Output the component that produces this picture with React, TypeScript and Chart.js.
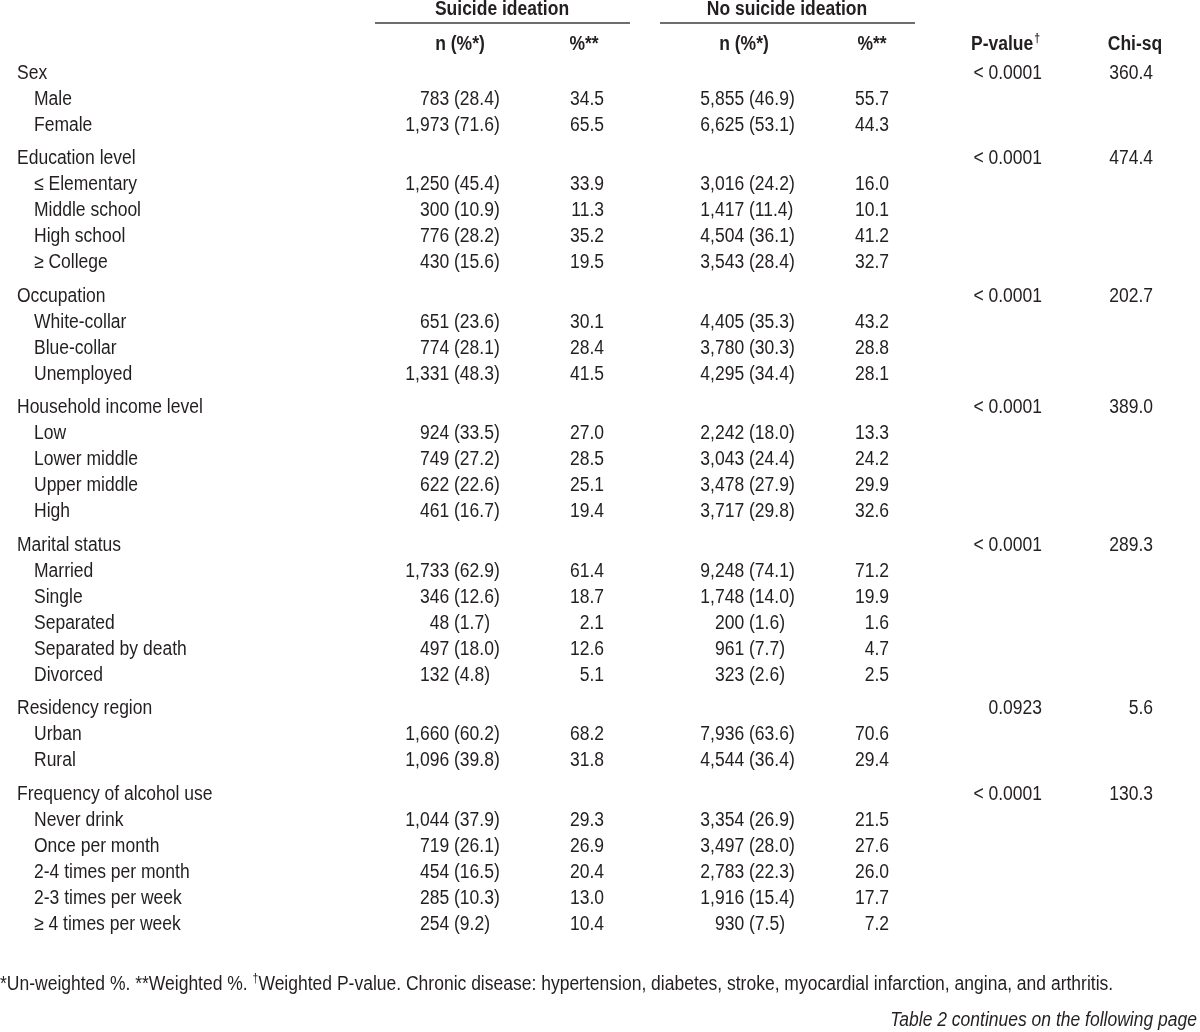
import React, { useEffect, useRef } from "react";
import { Chart, registerables } from "chart.js";

Chart.register(...registerables);

// ---------- DATA ----------
const groupLabels = [
  "Sex",
  "Education level",
  "Occupation",
  "Household income level",
  "Marital status",
  "Residency region",
  "Frequency of alcohol use",
];

const categories = [
  ["Male", "Female"],
  ["≤ Elementary", "Middle school", "High school", "≥ College"],
  ["White-collar", "Blue-collar", "Unemployed"],
  ["Low", "Lower middle", "Upper middle", "High"],
  ["Married", "Single", "Separated", "Separated by death", "Divorced"],
  ["Urban", "Rural"],
  ["Never drink", "Once per month", "2-4 times per month", "2-3 times per week", "≥ 4 times per week"],
];

const ideationN = [
  [783, 1973],
  [1250, 300, 776, 430],
  [651, 774, 1331],
  [924, 749, 622, 461],
  [1733, 346, 48, 497, 132],
  [1660, 1096],
  [1044, 719, 454, 285, 254],
];
const ideationUnweighted = [
  [28.4, 71.6],
  [45.4, 10.9, 28.2, 15.6],
  [23.6, 28.1, 48.3],
  [33.5, 27.2, 22.6, 16.7],
  [62.9, 12.6, 1.7, 18.0, 4.8],
  [60.2, 39.8],
  [37.9, 26.1, 16.5, 10.3, 9.2],
];
const ideationWeighted = [
  [34.5, 65.5],
  [33.9, 11.3, 35.2, 19.5],
  [30.1, 28.4, 41.5],
  [27.0, 28.5, 25.1, 19.4],
  [61.4, 18.7, 2.1, 12.6, 5.1],
  [68.2, 31.8],
  [29.3, 26.9, 20.4, 13.0, 10.4],
];

const noIdeationN = [
  [5855, 6625],
  [3016, 1417, 4504, 3543],
  [4405, 3780, 4295],
  [2242, 3043, 3478, 3717],
  [9248, 1748, 200, 961, 323],
  [7936, 4544],
  [3354, 3497, 2783, 1916, 930],
];
const noIdeationUnweighted = [
  [46.9, 53.1],
  [24.2, 11.4, 36.1, 28.4],
  [35.3, 30.3, 34.4],
  [18.0, 24.4, 27.9, 29.8],
  [74.1, 14.0, 1.6, 7.7, 2.6],
  [63.6, 36.4],
  [26.9, 28.0, 22.3, 15.4, 7.5],
];
const noIdeationWeighted = [
  [55.7, 44.3],
  [16.0, 10.1, 41.2, 32.7],
  [43.2, 28.8, 28.1],
  [13.3, 24.2, 29.9, 32.6],
  [71.2, 19.9, 1.6, 4.7, 2.5],
  [70.6, 29.4],
  [21.5, 27.6, 26.0, 17.7, 7.2],
];

const pValues = ["< 0.0001", "< 0.0001", "< 0.0001", "< 0.0001", "< 0.0001", "0.0923", "< 0.0001"];
const chiSq = [360.4, 474.4, 202.7, 389.0, 289.3, 5.6, 130.3];

const spanHeaders = ["Suicide ideation", "No suicide ideation"];
const subHeaders = ["n (%*)", "%**", "n (%*)", "%**"];
const statHeaders = ["P-value", "Chi-sq"];
const footnoteA = "*Un-weighted %. **Weighted %. ";
const footnoteB = "Weighted P-value. Chronic disease: hypertension, diabetes, stroke, myocardial infarction, angina, and arthritis.";
const continuation = "Table 2 continues on the following page";

// ---------- LAYOUT (scale units = page pixels) ----------
const W = 1200;
const H = 1032;
const ROW_START = 73;
const ROW_STEP = 26;
const GROUP_GAP = 7.5;
const COL = {
  group: 17,
  item: 34,
  n1Paren: 454,
  w1Right: 604,
  n2Paren: 749,
  w2Right: 889,
  pRight: 1042,
  chiRight: 1153,
};
const SPAN = [
  { center: 502, from: 375, to: 630 },
  { center: 787, from: 660, to: 915 },
];
const SUB_CENTERS = [460, 584, 744, 872];
const STAT_CENTERS = [1005, 1135];
const TEXT = "#231f20";
const RULE = "#6d6e71";
const FAMILY = '"Liberation Sans", Arimo, Arial, sans-serif';
const CONDENSE = 0.875;

const fmtN = (v: number) => v.toLocaleString("en-US");
const fmtP = (v: number) => v.toFixed(1);

const tablePlugin = {
  id: "tablePlugin",
  afterDraw(chart: any) {
    const ctx: CanvasRenderingContext2D = chart.ctx;
    const xs = chart.scales.x;
    const ys = chart.scales.y;
    const X = (v: number) => xs.getPixelForValue(v);
    const Y = (v: number) => ys.getPixelForValue(v);
    const sx = CONDENSE;

    const font = (size: number, style = "") => `${style} ${size}px ${FAMILY}`.trim();
    const measure = (t: string, f: string) => {
      ctx.font = f;
      return ctx.measureText(t).width * sx;
    };
    const draw = (t: string, x: number, y: number, align: CanvasTextAlign, f: string) => {
      ctx.save();
      ctx.font = f;
      ctx.fillStyle = TEXT;
      ctx.textBaseline = "middle";
      ctx.textAlign = align;
      ctx.translate(x, y);
      ctx.scale(sx, 1);
      ctx.fillText(t, 0, 0);
      ctx.restore();
    };

    const body = font(20);
    const bold = font(20, "bold");

    // header row 1
    SPAN.forEach((s, i) => {
      draw(spanHeaders[i], X(s.center), Y(9), "center", bold);
      ctx.save();
      ctx.strokeStyle = RULE;
      ctx.lineWidth = 2;
      ctx.beginPath();
      ctx.moveTo(X(s.from), Y(23));
      ctx.lineTo(X(s.to), Y(23));
      ctx.stroke();
      ctx.restore();
    });
    // header row 2
    subHeaders.forEach((h, i) => draw(h, X(SUB_CENTERS[i]), Y(44), "center", bold));
    {
      const main = statHeaders[0];
      const wMain = measure(main, bold);
      const dag = font(12, "bold");
      const wDag = measure("†", dag);
      const left = X(STAT_CENTERS[0]) - (wMain + wDag) / 2;
      draw(main, left, Y(44), "left", bold);
      draw("†", left + wMain + 1, Y(39), "left", dag);
    }
    draw(statHeaders[1], X(STAT_CENTERS[1]), Y(44), "center", bold);

    // body rows
    let row = 0;
    const sp = measure(" ", body);
    groupLabels.forEach((g, gi) => {
      const yPos = (r: number) => ROW_START + ROW_STEP * r + GROUP_GAP * gi;
      const gy = Y(yPos(row));
      draw(g, X(COL.group), gy, "left", body);
      draw(pValues[gi], X(COL.pRight), gy, "right", body);
      draw(fmtP(chiSq[gi]), X(COL.chiRight), gy, "right", body);
      row++;
      categories[gi].forEach((c, ci) => {
        const y = Y(yPos(row));
        draw(c, X(COL.item), y, "left", body);
        draw(fmtN(ideationN[gi][ci]), X(COL.n1Paren) - sp, y, "right", body);
        draw(`(${fmtP(ideationUnweighted[gi][ci])})`, X(COL.n1Paren), y, "left", body);
        draw(fmtP(ideationWeighted[gi][ci]), X(COL.w1Right), y, "right", body);
        draw(fmtN(noIdeationN[gi][ci]), X(COL.n2Paren) - sp, y, "right", body);
        draw(`(${fmtP(noIdeationUnweighted[gi][ci])})`, X(COL.n2Paren), y, "left", body);
        draw(fmtP(noIdeationWeighted[gi][ci]), X(COL.w2Right), y, "right", body);
        row++;
      });
    });

    // footnote
    {
      const fn = font(20);
      const y = Y(984);
      const wA = measure(footnoteA, fn);
      draw(footnoteA, X(0), y, "left", fn);
      const dag = font(12);
      const wD = measure("†", dag);
      draw("†", X(0) + wA, y - 5, "left", dag);
      draw(footnoteB, X(0) + wA + wD, y, "left", fn);
    }
    draw(continuation, X(1197), Y(1020), "right", font(20, "italic"));
  },
};

export default function App() {
  const ref = useRef<HTMLCanvasElement | null>(null);
  useEffect(() => {
    if (!ref.current) return;
    const chart = new Chart(ref.current, {
      type: "scatter",
      data: { datasets: [{ data: [], pointRadius: 0 }] },
      options: {
        animation: false,
        responsive: false,
        devicePixelRatio: 1,
        layout: { padding: 0 },
        plugins: { legend: { display: false }, tooltip: { enabled: false } },
        scales: {
          x: { type: "linear", min: 0, max: W, display: false },
          y: { type: "linear", min: 0, max: H, reverse: true, display: false },
        },
      },
      plugins: [tablePlugin],
    });
    return () => chart.destroy();
  }, []);
  return (
    <div style={{ position: "absolute", left: 0, top: 0, width: W, height: H, background: "#fff" }}>
      <canvas ref={ref} width={W} height={H} style={{ display: "block" }} />
    </div>
  );
}
